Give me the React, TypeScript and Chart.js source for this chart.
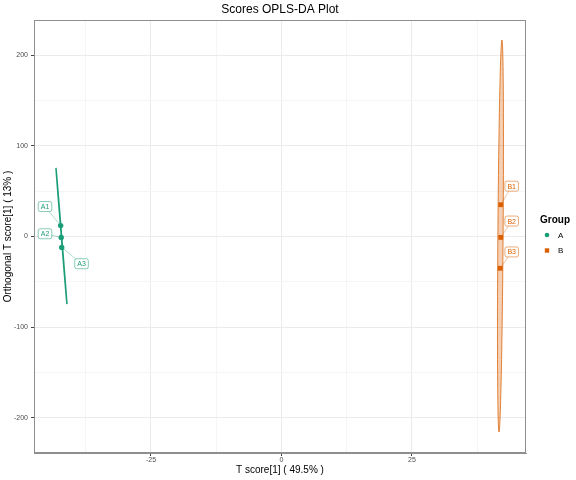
import React, { useEffect, useRef } from 'react';
import { Chart, registerables } from 'chart.js';

Chart.register(...registerables);

const FONT = '"Liberation Sans", Arial, Helvetica, sans-serif';

// ---- data ----
const groupNames = ['A', 'B'];
const groupColors = ['#1B9E77', '#D95F02'];
const sampleNames = ['A1', 'A2', 'A3', 'B1', 'B2', 'B3'];
const sampleGroup = [0, 0, 0, 1, 1, 1];
const tScore = [-42.3, -42.2, -42.1, 42.0, 42.0, 41.9];
const orthoScore = [12, -1, -12, 35, -1, -35];
// label (repel) positions in data units
const labelX = [-45.3, -45.3, -38.3, 44.1, 44.1, 44.1];
const labelY = [33, 3, -30, 55.5, 17, -17];
// confidence ellipses: centre, first semi-axis vector, second semi-axis vector
const ellipseCenterX = [-42.15, 41.95];
const ellipseCenterY = [0.5, 0.5];
const ellipseAxis1 = [[-1.05, 75], [0.28, 216]];
const ellipseAxis2 = [[0.03, 0], [0.5, 0]];

const xMajor = [-25, 0, 25];
const xMinor = [-37.5, -12.5, 12.5, 37.5];
const yMajor = [-200, -100, 0, 100, 200];
const yMinor = [-150, -50, 50, 150];
const xRange = [-47.41, 46.84];
const yRange = [-238.6, 238.6];

const titleText = 'Scores OPLS-DA Plot';
const xTitle = 'T score[1] ( 49.5% )';
const yTitle = 'Orthogonal T score[1] ( 13% )';
const legendTitle = 'Group';

function hexA(hex: string, a: number) {
  const n = parseInt(hex.slice(1), 16);
  return `rgba(${(n >> 16) & 255},${(n >> 8) & 255},${n & 255},${a})`;
}

const decorPlugin = {
  id: 'decor',
  beforeDatasetsDraw(chart: any) {
    const { ctx } = chart;
    const xs = chart.scales.x;
    const ys = chart.scales.y;
    for (let g = 0; g < groupNames.length; g++) {
      ctx.save();
      ctx.beginPath();
      const N = 120;
      for (let k = 0; k <= N; k++) {
        const t = (k / N) * Math.PI * 2;
        const dx = ellipseCenterX[g] + ellipseAxis1[g][0] * Math.cos(t) + ellipseAxis2[g][0] * Math.sin(t);
        const dy = ellipseCenterY[g] + ellipseAxis1[g][1] * Math.cos(t) + ellipseAxis2[g][1] * Math.sin(t);
        const px = xs.getPixelForValue(dx);
        const py = ys.getPixelForValue(dy);
        if (k === 0) ctx.moveTo(px, py);
        else ctx.lineTo(px, py);
      }
      ctx.closePath();
      ctx.fillStyle = hexA(groupColors[g], 0.3);
      ctx.fill();
      ctx.strokeStyle = hexA(groupColors[g], g === 0 ? 1 : 0.75);
      ctx.lineWidth = g === 0 ? 1.5 : 1;
      ctx.stroke();
      ctx.restore();
    }
  },
  afterDatasetsDraw(chart: any) {
    const { ctx } = chart;
    const xs = chart.scales.x;
    const ys = chart.scales.y;
    ctx.save();
    ctx.font = `7px ${FONT}`;
    for (let i = 0; i < sampleNames.length; i++) {
      const col = groupColors[sampleGroup[i]];
      const px = xs.getPixelForValue(tScore[i]);
      const py = ys.getPixelForValue(orthoScore[i]);
      const lx = xs.getPixelForValue(labelX[i]);
      const ly = ys.getPixelForValue(labelY[i]);
      const tw = ctx.measureText(sampleNames[i]).width;
      const w = tw + 5;
      const h = 10;
      // segment
      ctx.strokeStyle = hexA(col, 0.5);
      ctx.lineWidth = 0.7;
      ctx.beginPath();
      ctx.moveTo(px, py);
      ctx.lineTo(lx, ly);
      ctx.stroke();
      // box
      ctx.beginPath();
      ctx.roundRect(lx - w / 2, ly - h / 2, w, h, 2);
      ctx.fillStyle = '#ffffff';
      ctx.fill();
      ctx.strokeStyle = hexA(col, 0.75);
      ctx.lineWidth = 0.7;
      ctx.stroke();
      ctx.fillStyle = col;
      ctx.textAlign = 'center';
      ctx.textBaseline = 'middle';
      ctx.fillText(sampleNames[i], lx, ly + 0.5);
    }
    ctx.restore();
  },
  afterDraw(chart: any) {
    const { ctx, chartArea } = chart;
    ctx.save();
    // panel border
    ctx.strokeStyle = '#8f8f8f';
    ctx.lineWidth = 1;
    ctx.strokeRect(chartArea.left + 0.5, chartArea.top + 0.5, chartArea.right - chartArea.left - 1, chartArea.bottom - chartArea.top - 1);
    // title
    ctx.fillStyle = '#000';
    ctx.font = `12px ${FONT}`;
    ctx.textAlign = 'center';
    ctx.textBaseline = 'middle';
    ctx.fillText(titleText, (chartArea.left + chartArea.right) / 2, 10);
    // legend
    ctx.font = `bold 10px ${FONT}`;
    ctx.textAlign = 'left';
    ctx.fillText(legendTitle, 540, 220);
    ctx.font = `8px ${FONT}`;
    for (let g = 0; g < groupNames.length; g++) {
      const y = 235 + g * 15.5;
      ctx.fillStyle = groupColors[g];
      if (g === 0) {
        ctx.beginPath();
        ctx.arc(547, y, 2.3, 0, Math.PI * 2);
        ctx.fill();
      } else {
        ctx.fillRect(544.8, y - 2.2, 4.4, 4.4);
      }
      ctx.fillStyle = '#000';
      ctx.fillText(groupNames[g], 558, y + 0.5);
    }
    ctx.restore();
  },
};

export default function App() {
  const ref = useRef<HTMLCanvasElement>(null);
  useEffect(() => {
    document.body.style.margin = '0';
    const datasets = groupNames.map((g, gi) => ({
      label: g,
      data: sampleNames
        .map((_, i) => i)
        .filter((i) => sampleGroup[i] === gi)
        .map((i) => ({ x: tScore[i], y: orthoScore[i] })),
      pointStyle: gi === 0 ? 'circle' : 'rect',
      pointRadius: gi === 0 ? 2.7 : 3.4,
      backgroundColor: groupColors[gi],
      borderColor: groupColors[gi],
      borderWidth: 0,
      showLine: false,
    }));
    const isXMajor = (v: number) => xMajor.includes(v);
    const isYMajor = (v: number) => yMajor.includes(v);
    const chart = new Chart(ref.current!, {
      type: 'scatter',
      data: { datasets: datasets as any },
      options: {
        responsive: false,
        animation: false,
        layout: { padding: { top: 20, right: 50, left: 0, bottom: 0 } },
        plugins: { legend: { display: false }, tooltip: { enabled: false } },
        scales: {
          x: {
            type: 'linear',
            min: xRange[0],
            max: xRange[1],
            afterBuildTicks: (s: any) => {
              s.ticks = [...xMinor, ...xMajor].sort((a, b) => a - b).map((v) => ({ value: v }));
            },
            afterFit: (s: any) => {
              s.height = 27;
            },
            ticks: {
              autoSkip: false,
              maxRotation: 0,
              color: '#4D4D4D',
              font: { size: 7, family: FONT },
              padding: 0,
              callback: (v: any) => (isXMajor(v) ? String(v) : ''),
            },
            grid: {
              color: (c: any) => (c.tick && isXMajor(c.tick.value) ? '#EBEBEB' : '#F5F5F5'),
              tickColor: (c: any) => (c.tick && isXMajor(c.tick.value) ? '#444' : 'rgba(0,0,0,0)'),
              tickLength: 3,
            },
            border: { display: true, color: '#8f8f8f' },
            title: {
              display: true,
              text: xTitle,
              color: '#000',
              font: { size: 10, family: FONT },
              padding: { top: 0, bottom: 4 },
            },
          },
          y: {
            type: 'linear',
            min: yRange[0],
            max: yRange[1],
            afterBuildTicks: (s: any) => {
              s.ticks = [...yMinor, ...yMajor].sort((a, b) => a - b).map((v) => ({ value: v }));
            },
            afterFit: (s: any) => {
              s.width = 34;
            },
            ticks: {
              autoSkip: false,
              color: '#4D4D4D',
              font: { size: 7, family: FONT },
              padding: 3,
              callback: (v: any) => (isYMajor(v) ? String(v) : ''),
            },
            grid: {
              color: (c: any) => (c.tick && isYMajor(c.tick.value) ? '#EBEBEB' : '#F5F5F5'),
              tickColor: (c: any) => (c.tick && isYMajor(c.tick.value) ? '#444' : 'rgba(0,0,0,0)'),
              tickLength: 3,
            },
            border: { display: true, color: '#8f8f8f' },
            title: {
              display: true,
              text: yTitle,
              color: '#000',
              font: { size: 10, family: FONT },
              padding: { top: 2, bottom: 0 },
            },
          },
        },
      },
      plugins: [decorPlugin],
    } as any);
    return () => chart.destroy();
  }, []);
  return (
    <div style={{ width: 576, height: 480 }}>
      <canvas ref={ref} width={576} height={480} style={{ width: 576, height: 480, display: 'block' }} />
    </div>
  );
}
